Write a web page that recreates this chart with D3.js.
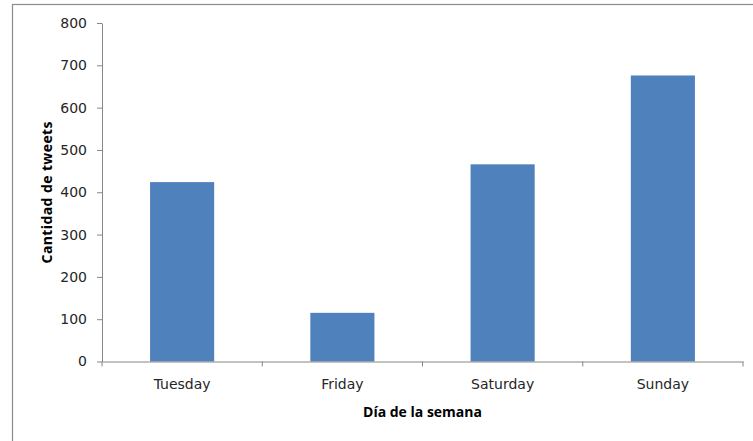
<!DOCTYPE html>
<html>
<head>
<meta charset="utf-8">
<script src="https://cdn.jsdelivr.net/npm/d3@7/dist/d3.min.js"></script>
<style>
  html, body { margin: 0; padding: 0; background: #fff; }
  svg { display: block; }
</style>
</head>
<body>
<svg id="chart" width="753" height="441"></svg>
<script>
const categories = ["Tuesday", "Friday", "Saturday", "Sunday"];
const values = [424, 115, 466, 676];
const yTicks = [0, 100, 200, 300, 400, 500, 600, 700, 800];
const xTitle = "Día de la semana";
const yTitle = "Cantidad de tweets";

const svg = d3.select("#chart");
const plot = { left: 102, right: 743, top: 23, bottom: 361.5 };

// outer chart frame (extends past the window on right/bottom)
svg.append("rect")
  .attr("x", 12.5).attr("y", 4.5)
  .attr("width", 900).attr("height", 600)
  .attr("fill", "#fff")
  .attr("stroke", "#8c8c8c").attr("stroke-width", 1.2);

const x = d3.scaleBand()
  .domain(categories)
  .range([plot.left, plot.right])
  .paddingInner(0.6)
  .paddingOuter(0.3);

const y = d3.scaleLinear()
  .domain([0, 800])
  .range([plot.bottom, plot.top]);

const axisColor = "#868686";
const font = "'DejaVu Sans', Verdana, sans-serif";

// bars
svg.append("g").selectAll("rect")
  .data(categories)
  .join("rect")
  .attr("x", d => x(d))
  .attr("y", (d, i) => y(values[i]))
  .attr("width", x.bandwidth())
  .attr("height", (d, i) => y(0) - y(values[i]))
  .attr("fill", "#4F81BD");

// y axis
const yAxis = svg.append("g")
  .attr("transform", `translate(${plot.left},0)`)
  .call(d3.axisLeft(y).tickValues(yTicks).tickSize(5).tickSizeOuter(0).tickPadding(10));
yAxis.select(".domain").attr("stroke", axisColor);
yAxis.selectAll(".tick line").attr("stroke", axisColor);
yAxis.selectAll(".tick text")
  .attr("fill", "#262626")
  .style("font-family", font)
  .style("font-size", "14px");

// x axis (labels centered on bands, ticks on band boundaries)
const xAxis = svg.append("g")
  .attr("transform", `translate(0,${plot.bottom})`)
  .call(d3.axisBottom(x).tickSize(0).tickSizeOuter(0).tickPadding(18));
xAxis.select(".domain").attr("stroke", axisColor);
xAxis.selectAll(".tick text")
  .attr("fill", "#262626")
  .style("font-family", font)
  .style("font-size", "14px");

const step = x.step();
const boundaries = d3.range(categories.length + 1).map(i => plot.left + i * step);
xAxis.selectAll(".bound")
  .data(boundaries)
  .join("line")
  .attr("class", "bound")
  .attr("x1", d => d).attr("x2", d => d)
  .attr("y1", 0).attr("y2", 5)
  .attr("stroke", axisColor);

// axis titles
svg.append("text")
  .attr("x", (plot.left + plot.right) / 2)
  .attr("y", 417)
  .attr("text-anchor", "middle")
  .style("font-family", "'Open Sans', 'Liberation Sans', sans-serif")
  .style("font-weight", "bold")
  .style("font-size", "14px")
  .attr("fill", "#000")
  .text(xTitle);

svg.append("text")
  .attr("transform", `translate(52,${(plot.top + plot.bottom) / 2}) rotate(-90)`)
  .attr("text-anchor", "middle")
  .style("font-family", "'Open Sans', 'Liberation Sans', sans-serif")
  .style("font-weight", "bold")
  .style("font-size", "14px")
  .style("letter-spacing", "0.4px")
  .attr("fill", "#000")
  .text(yTitle);
</script>
</body>
</html>
